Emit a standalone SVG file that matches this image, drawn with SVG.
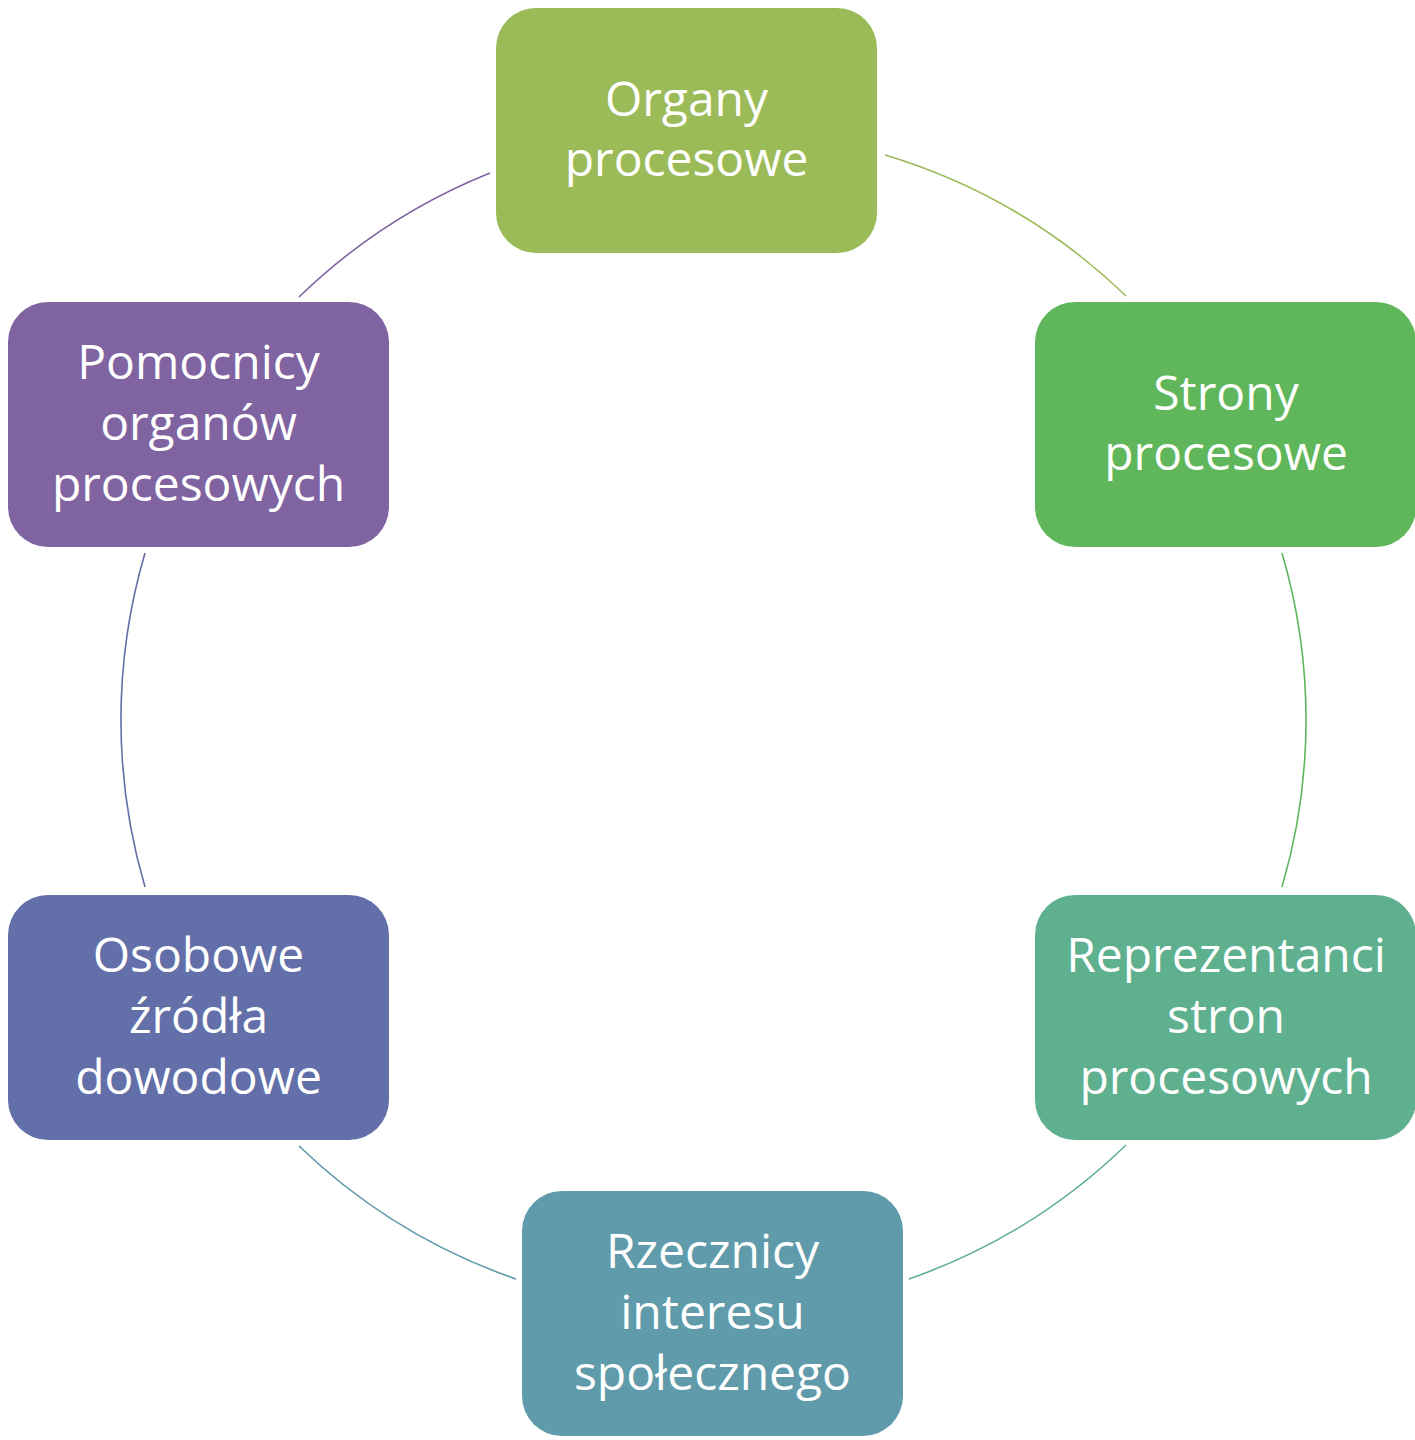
<svg xmlns="http://www.w3.org/2000/svg" width="1415" height="1440" viewBox="0 0 1415 1440">
<style>
.box{stroke:none}
.lbl{font-family:"Open Sans","Liberation Sans",sans-serif;font-size:48px;fill:#ffffff;text-anchor:middle}
.arc{fill:none;stroke-width:1.6}
</style>
<rect width="1415" height="1440" fill="#ffffff"/>
<g id="connectors">
<path class="arc" stroke="#9BBB59" d="M885,155 A592,592 0 0 1 1126,296"/>
<path class="arc" stroke="#5FB65B" d="M1282,553 A592,592 0 0 1 1282,887"/>
<path class="arc" stroke="#5EB08F" d="M1126,1145 A592,592 0 0 1 909,1279"/>
<path class="arc" stroke="#5F9BAA" d="M516,1279 A592,592 0 0 1 299,1146"/>
<path class="arc" stroke="#626FA8" d="M145,887 A592,592 0 0 1 145,553"/>
<path class="arc" stroke="#8064A2" d="M299,297 A592,592 0 0 1 490,173"/>
</g>
<g id="node-organy">
<rect class="box" x="496" y="8" width="381" height="245" rx="40" fill="#9BBB59"/>
<text class="lbl" x="686.5" y="116">Organy</text>
<text class="lbl" x="686.5" y="176">procesowe</text>
</g>
<g id="node-strony">
<rect class="box" x="1035" y="302" width="381" height="245" rx="40" fill="#5FB65B"/>
<text class="lbl" x="1226" y="410">Strony</text>
<text class="lbl" x="1226" y="470">procesowe</text>
</g>
<g id="node-reprezentanci">
<rect class="box" x="1035" y="895" width="381" height="245" rx="40" fill="#5EB08F"/>
<text class="lbl" x="1226" y="972">Reprezentanci</text>
<text class="lbl" x="1226" y="1033">stron</text>
<text class="lbl" x="1226" y="1094">procesowych</text>
</g>
<g id="node-rzecznicy">
<rect class="box" x="522" y="1191" width="381" height="245" rx="40" fill="#5F9BAA"/>
<text class="lbl" x="712.5" y="1268">Rzecznicy</text>
<text class="lbl" x="712.5" y="1329">interesu</text>
<text class="lbl" x="712.5" y="1390">społecznego</text>
</g>
<g id="node-osobowe">
<rect class="box" x="8" y="895" width="381" height="245" rx="40" fill="#626FA8"/>
<text class="lbl" x="198.5" y="972">Osobowe</text>
<text class="lbl" x="198.5" y="1033">źródła</text>
<text class="lbl" x="198.5" y="1094">dowodowe</text>
</g>
<g id="node-pomocnicy">
<rect class="box" x="8" y="302" width="381" height="245" rx="40" fill="#8064A2"/>
<text class="lbl" x="198.5" y="379">Pomocnicy</text>
<text class="lbl" x="198.5" y="440">organów</text>
<text class="lbl" x="198.5" y="501">procesowych</text>
</g>
</svg>
